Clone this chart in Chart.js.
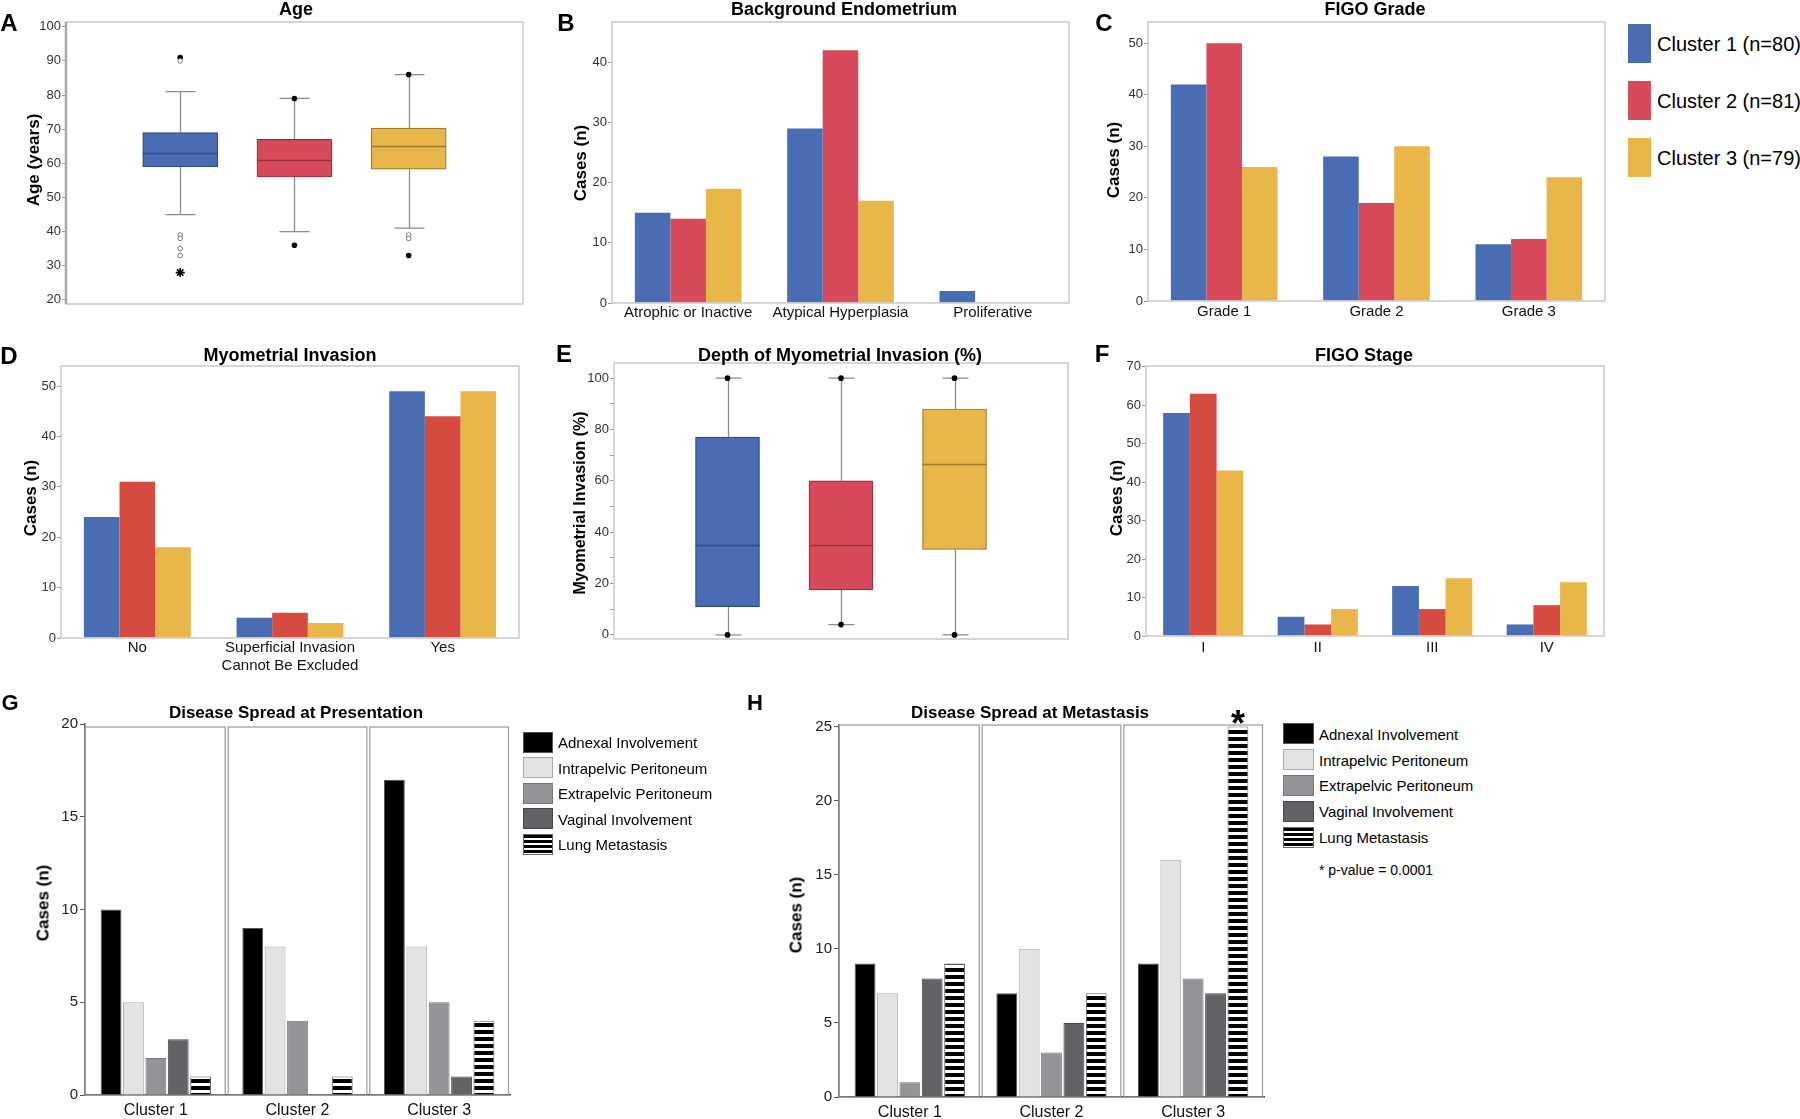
<!DOCTYPE html>
<html>
<head>
<meta charset="utf-8">
<script src="https://cdn.jsdelivr.net/npm/chart.js@4.4.1/dist/chart.umd.min.js"></script>
<style>
  html, body { margin: 0; padding: 0; background: #fff; }
  #page { position: relative; width: 1800px; height: 1119px; overflow: hidden;
          font-family: Arial, "Liberation Sans", Helvetica, sans-serif; color: #000; }
  #page canvas { position: absolute; }
  .txt { position: absolute; white-space: nowrap; transform: translate(-50%, -50%); line-height: 1; }
  .letter { font-weight: bold; font-size: 24px; }
  .ptitle { font-weight: bold; font-size: 18px; }
  .ytitle { font-weight: bold; font-size: 17px; transform: translate(-50%, -50%) rotate(-90deg); }
  .sw { position: absolute; box-sizing: border-box; }
  .lg { position: absolute; white-space: nowrap; transform: translateY(-50%); line-height: 1; }
</style>
</head>
<body>
<div id="page"></div>
<script>
// ---- data ----
const clusterNames = ['Cluster 1 (n=80)', 'Cluster 2 (n=81)', 'Cluster 3 (n=79)'];
const clusterColors = ['#4a6cb3', '#d64a5b', '#e8b649'];
const clusterColorsAlt = ['#4a6cb3', '#d64b3f', '#e8b649'];   // D and F use a more orange red
const boxEdges = ['#2f4a85', '#93303d', '#9e7a2a'];

// A: Age
const ageQ1 = [59, 56, 58.3];
const ageMedian = [63, 61, 65];
const ageQ3 = [69, 67, 70.3];
const ageWhiskerLow = [45, 40, 41];
const ageWhiskerHigh = [81, 79, 86];
const ageFilled = [[91], [79, 36], [86, 33]];
const ageOpen = [[90, 39, 38, 35, 33], [], [39, 38]];
const ageExtreme = [[28], [], []];
const ageTicks = [20, 30, 40, 50, 60, 70, 80, 90, 100];

// B: Background Endometrium
const endoCategories = ['Atrophic or Inactive', 'Atypical Hyperplasia', 'Proliferative'];
const endoCluster1 = [15, 29, 2];
const endoCluster2 = [14, 42, 0];
const endoCluster3 = [19, 17, 0];
const endoTicks = [0, 10, 20, 30, 40];

// C: FIGO Grade
const gradeCategories = ['Grade 1', 'Grade 2', 'Grade 3'];
const gradeCluster1 = [42, 28, 11];
const gradeCluster2 = [50, 19, 12];
const gradeCluster3 = [26, 30, 24];
const gradeTicks = [0, 10, 20, 30, 40, 50];

// D: Myometrial Invasion
const invCategories = ['No', ['Superficial Invasion', 'Cannot Be Excluded'], 'Yes'];
const invCluster1 = [24, 4, 49];
const invCluster2 = [31, 5, 44];
const invCluster3 = [18, 3, 49];
const invTicks = [0, 10, 20, 30, 40, 50];

// E: Depth of Myometrial Invasion (%)
const depthQ1 = [11, 17.5, 33.3];
const depthMedian = [35, 35, 66.7];
const depthQ3 = [77, 60, 88];
const depthWhiskerLow = [0, 4, 0];
const depthWhiskerHigh = [100, 100, 100];
const depthFilled = [[0, 100], [4, 100], [0, 100]];
const depthTicks = [0, 10, 20, 30, 40, 50, 60, 70, 80, 90, 100];

// F: FIGO Stage
const stageCategories = ['I', 'II', 'III', 'IV'];
const stageCluster1 = [58, 5, 13, 3];
const stageCluster2 = [63, 3, 7, 8];
const stageCluster3 = [43, 7, 15, 14];
const stageTicks = [0, 10, 20, 30, 40, 50, 60, 70];

// G, H: Disease spread
const spreadClusters = ['Cluster 1', 'Cluster 2', 'Cluster 3'];
const spreadSites = ['Adnexal Involvement', 'Intrapelvic Peritoneum', 'Extrapelvic Peritoneum', 'Vaginal Involvement', 'Lung Metastasis'];
const spreadFill = ['#000000', '#e2e3e5', '#939497', '#626366', null];
const spreadEdge = ['#555555', '#a9aaad', '#77787b', '#454648', '#666666'];
const presAdnexal = [10, 9, 17];
const presIntrapelvic = [5, 8, 8];
const presExtrapelvic = [2, 4, 5];
const presVaginal = [3, 0, 1];
const presLung = [1, 1, 4];
const presTicks = [0, 5, 10, 15, 20];
const metAdnexal = [9, 7, 9];
const metIntrapelvic = [7, 10, 16];
const metExtrapelvic = [1, 3, 8];
const metVaginal = [8, 5, 7];
const metLung = [9, 7, 25];
const metTicks = [0, 5, 10, 15, 20, 25];
const metSignificant = [{ site: 4, cluster: 2, mark: '*' }];

// ---- setup ----
const FONT = 'Arial, "Liberation Sans", Helvetica, sans-serif';
Chart.defaults.font.family = FONT;
Chart.defaults.animation = false;
Chart.defaults.events = [];
Chart.defaults.plugins.legend.display = false;
Chart.defaults.plugins.tooltip.enabled = false;

const page = document.getElementById('page');

function addText(text, x, y, cls, style) {
  const d = document.createElement('div');
  d.className = 'txt ' + (cls || '');
  d.textContent = text;
  d.style.left = x + 'px';
  d.style.top = y + 'px';
  if (style) Object.assign(d.style, style);
  page.appendChild(d);
  return d;
}

function addSwatch(x, y, w, h, bg, border) {
  const s = document.createElement('div');
  s.className = 'sw';
  Object.assign(s.style, { left: x + 'px', top: y + 'px', width: w + 'px', height: h + 'px',
    background: bg, border: border ? '1px solid ' + border : 'none' });
  page.appendChild(s);
}

function addLegendText(text, x, y, size) {
  const d = document.createElement('div');
  d.className = 'lg';
  d.textContent = text;
  Object.assign(d.style, { left: x + 'px', top: y + 'px', fontSize: size + 'px' });
  page.appendChild(d);
}

// fixed margins so the chart area lands exactly on the frame
const ML = 62, MT = 16, MR = 6, MB = 56;
function makeChart(frame, config) {
  const w = frame.r - frame.l + ML + MR;
  const h = frame.b - frame.t + MT + MB;
  const canvas = document.createElement('canvas');
  canvas.width = w; canvas.height = h;
  canvas.style.left = (frame.l - ML) + 'px';
  canvas.style.top = (frame.t - MT) + 'px';
  canvas.style.width = w + 'px';
  canvas.style.height = h + 'px';
  page.appendChild(canvas);
  config.options.responsive = false;
  config.options.devicePixelRatio = 1;
  config.options.layout = { padding: { top: MT, right: MR, left: 0, bottom: 0 } };
  config.options.scales.y.afterFit = s => { s.width = ML; };
  config.options.scales.x.afterFit = s => { s.height = MB; };
  return new Chart(canvas, config);
}

function yAxis(min, max, ticks, opts) {
  opts = opts || {};
  return {
    min: min, max: max,
    afterBuildTicks: s => { s.ticks = ticks.map(v => ({ value: v })); },
    ticks: { font: { size: opts.size || 13 }, color: opts.color || '#333', padding: opts.pad || 1,
             callback: opts.label || (v => v) },
    grid: { drawOnChartArea: false, drawTicks: true, tickLength: opts.tick || 4, color: opts.tickColor || '#999' },
    border: { display: !!opts.border, color: opts.borderColor || '#555', width: opts.borderWidth || 1.5 }
  };
}

const plotFrame = {
  id: 'plotFrame',
  afterDatasetsDraw(chart, args, opts) {
    const a = chart.chartArea, ctx = chart.ctx;
    ctx.save();
    ctx.strokeStyle = '#c9c9c9';
    ctx.lineWidth = 1.5;
    ctx.strokeRect(a.left, a.top, a.right - a.left, a.bottom - a.top);
    if (opts.leftColor) {
      ctx.strokeStyle = opts.leftColor;
      ctx.lineWidth = opts.leftWidth || 2;
      ctx.beginPath(); ctx.moveTo(a.left, a.top); ctx.lineTo(a.left, a.bottom); ctx.stroke();
    }
    ctx.restore();
  }
};

// whiskers under the boxes, medians on top
const boxPlot = {
  id: 'boxPlot',
  beforeDatasetsDraw(chart, args, o) {
    const meta = chart.getDatasetMeta(0), y = chart.scales.y, ctx = chart.ctx;
    ctx.save();
    ctx.strokeStyle = o.whiskerColor;
    ctx.lineWidth = 1.3;
    o.low.forEach((lo, i) => {
      const bar = meta.data[i + 1];
      const x = Math.round(bar.x) + 0.5;
      [[lo, o.q1[i]], [o.high[i], o.q3[i]]].forEach(([end, edge]) => {
        const ye = y.getPixelForValue(end);
        ctx.beginPath();
        ctx.moveTo(x, ye); ctx.lineTo(x, y.getPixelForValue(edge));
        ctx.moveTo(x - o.cap / 2, ye); ctx.lineTo(x + o.cap / 2, ye);
        ctx.stroke();
      });
    });
    ctx.restore();
  },
  afterDatasetsDraw(chart, args, o) {
    const meta = chart.getDatasetMeta(0), y = chart.scales.y, ctx = chart.ctx;
    ctx.save();
    ctx.lineWidth = 1.5;
    o.median.forEach((m, i) => {
      const bar = meta.data[i + 1];
      const ym = Math.round(y.getPixelForValue(m)) + 0.5;
      ctx.strokeStyle = boxEdges[i];
      ctx.beginPath();
      ctx.moveTo(bar.x - bar.width / 2, ym); ctx.lineTo(bar.x + bar.width / 2, ym);
      ctx.stroke();
    });
    ctx.restore();
  }
};

function pointSet(lists, style) {
  const data = [];
  lists.forEach((vals, i) => vals.forEach(v => data.push({ x: spreadClusters[i], y: v })));
  return Object.assign({ type: 'scatter', data: data }, style);
}

function boxChart(frame, q1, med, q3, lo, hi, pointSets, yMin, yMax, ticks, boxWidth, cap, tickLabel, frameOpts) {
  const labels = [''].concat(spreadClusters, ['']);
  return makeChart(frame, {
    type: 'bar',
    data: {
      labels: labels,
      datasets: [{
        data: [null].concat(q1.map((v, i) => [v, q3[i]]), [null]),
        backgroundColor: ['rgba(0,0,0,0)'].concat(clusterColors, ['rgba(0,0,0,0)']),
        borderColor: ['rgba(0,0,0,0)'].concat(boxEdges, ['rgba(0,0,0,0)']),
        borderWidth: 1.2,
        borderSkipped: false,
        barThickness: boxWidth
      }].concat(pointSets)
    },
    options: {
      scales: {
        x: { offset: false, ticks: { display: false }, grid: { display: false, drawTicks: false }, border: { display: false } },
        y: yAxis(yMin, yMax, ticks, { label: tickLabel })
      },
      plugins: {
        plotFrame: frameOpts || {},
        boxPlot: { q1: q1, q3: q3, median: med, low: lo, high: hi, cap: cap, whiskerColor: '#8c8c8c' }
      }
    },
    plugins: [boxPlot, plotFrame]
  });
}

function groupedChart(frame, categories, series, colors, yMin, yMax, ticks, labelPad) {
  return makeChart(frame, {
    type: 'bar',
    data: {
      labels: categories,
      datasets: series.map((d, i) => ({
        label: clusterNames[i], data: d, backgroundColor: colors[i], borderWidth: 0,
        categoryPercentage: 0.7, barPercentage: 1.0
      }))
    },
    options: {
      scales: {
        x: { ticks: { font: { size: 15 }, color: '#111', padding: labelPad, autoSkip: false, maxRotation: 0 },
             grid: { display: false, drawTicks: false }, border: { display: false } },
        y: yAxis(yMin, yMax, ticks)
      },
      plugins: { plotFrame: {} }
    },
    plugins: [plotFrame]
  });
}

// ---- A ----
boxChart({ l: 66, t: 22, r: 523, b: 304 }, ageQ1, ageMedian, ageQ3, ageWhiskerLow, ageWhiskerHigh, [
  pointSet(ageOpen, { pointStyle: 'circle', pointRadius: 2.3, backgroundColor: '#fff', borderColor: '#777', borderWidth: 1 }),
  pointSet(ageFilled, { pointStyle: 'circle', pointRadius: 2.8, backgroundColor: '#000', borderColor: '#000', borderWidth: 0 }),
  pointSet(ageExtreme, { pointStyle: 'star', pointRadius: 4.5, backgroundColor: '#000', borderColor: '#000', borderWidth: 1.6 })
], 18.8, 101.4, ageTicks, 75, 30, null, { leftColor: '#a8a8a8', leftWidth: 2.5 });

// ---- B ----
groupedChart({ l: 612, t: 22, r: 1069, b: 303 }, endoCategories, [endoCluster1, endoCluster2, endoCluster3],
  clusterColors, 0, 46.7, endoTicks, 1);

// ---- C ----
groupedChart({ l: 1148, t: 22, r: 1605, b: 301 }, gradeCategories, [gradeCluster1, gradeCluster2, gradeCluster3],
  clusterColors, 0, 54.1, gradeTicks, 2);

// ---- D ----
groupedChart({ l: 61, t: 366, r: 519, b: 638 }, invCategories, [invCluster1, invCluster2, invCluster3],
  clusterColorsAlt, 0, 54, invTicks, 1);

// ---- E ----
boxChart({ l: 614, t: 363, r: 1068, b: 639 }, depthQ1, depthMedian, depthQ3, depthWhiskerLow, depthWhiskerHigh, [
  pointSet(depthFilled, { pointStyle: 'circle', pointRadius: 2.8, backgroundColor: '#000', borderColor: '#000', borderWidth: 0 })
], -1.6, 105.9, depthTicks, 64, 26, v => (v % 20 === 0 ? v : ''));

// ---- F ----
groupedChart({ l: 1146, t: 366, r: 1604, b: 636 }, stageCategories, [stageCluster1, stageCluster2, stageCluster3],
  clusterColorsAlt, 0, 70.2, stageTicks, 3);

// ---- G, H ----
function stripePattern() {
  const c = document.createElement('canvas');
  c.width = 8; c.height = 7;
  const g = c.getContext('2d');
  g.fillStyle = '#fff'; g.fillRect(0, 0, 8, 7);
  g.fillStyle = '#000'; g.fillRect(0, 0, 8, 4);
  return g.createPattern(c, 'repeat');
}
const lungStripes = stripePattern();

const facetFrame = {
  id: 'facetFrame',
  beforeDatasetsDraw(chart, args, o) {
    const a = chart.chartArea, x = chart.scales.x, ctx = chart.ctx;
    const half = (x.getPixelForValue(1) - x.getPixelForValue(0)) / 2;
    ctx.save();
    ctx.strokeStyle = '#9a9a9a';
    ctx.lineWidth = 1.2;
    spreadClusters.forEach((c, i) => {
      const cx = x.getPixelForValue(i);
      const left = i === 0 ? a.left : cx - half + 1.5;
      ctx.strokeRect(left, a.top + o.inset, cx + half - 1.5 - left, a.bottom - a.top - o.inset);
    });
    ctx.restore();
  },
  afterDatasetsDraw(chart, args, o) {
    if (!o.marks) return;
    const ctx = chart.ctx;
    ctx.save();
    ctx.fillStyle = '#000';
    ctx.font = 'bold 36px ' + FONT;
    ctx.textAlign = 'center';
    ctx.textBaseline = 'alphabetic';
    o.marks.forEach(m => {
      const bar = chart.getDatasetMeta(m.site).data[m.cluster];
      ctx.fillText(m.mark, bar.x, bar.y + 10);
    });
    ctx.restore();
  }
};

function spreadChart(frame, series, yMax, ticks, inset, marks) {
  return makeChart(frame, {
    type: 'bar',
    data: {
      labels: spreadClusters,
      datasets: series.map((d, k) => ({
        label: spreadSites[k], data: d,
        backgroundColor: k === 4 ? lungStripes : spreadFill[k],
        borderColor: spreadEdge[k], borderWidth: 1,
        categoryPercentage: 0.79, barPercentage: 0.93
      }))
    },
    options: {
      scales: {
        x: { ticks: { font: { size: 16 }, color: '#111', padding: 6 },
             grid: { display: false, drawTicks: false }, border: { display: true, color: '#444', width: 1.5 } },
        y: yAxis(0, yMax, ticks, { size: 15, color: '#222', tick: 5, tickColor: '#555', pad: 2, border: true })
      },
      plugins: { facetFrame: { inset: inset, marks: marks } }
    },
    plugins: [facetFrame]
  });
}

spreadChart({ l: 85, t: 724, r: 510, b: 1095 },
  [presAdnexal, presIntrapelvic, presExtrapelvic, presVaginal, presLung], 20, presTicks, 3, null);
spreadChart({ l: 839, t: 725, r: 1264, b: 1097 },
  [metAdnexal, metIntrapelvic, metExtrapelvic, metVaginal, metLung], 25.1, metTicks, 0, metSignificant);

// ---- text: panel letters, titles, axis titles ----
[['A', 9, 23], ['B', 566, 23], ['C', 1104, 23], ['D', 9, 356], ['E', 564, 354], ['F', 1102, 354]]
  .forEach(([t, x, y]) => addText(t, x, y, 'letter'));
addText('G', 10, 703, 'letter', { fontSize: '22px' });
addText('H', 755, 703, 'letter', { fontSize: '22px' });

addText('Age', 296, 9, 'ptitle');
addText('Background Endometrium', 844, 9, 'ptitle');
addText('FIGO Grade', 1375, 9, 'ptitle');
addText('Myometrial Invasion', 290, 355, 'ptitle');
addText('Depth of Myometrial Invasion (%)', 840, 355, 'ptitle');
addText('FIGO Stage', 1364, 355, 'ptitle');
addText('Disease Spread at Presentation', 296, 712, 'ptitle', { fontSize: '17px' });
addText('Disease Spread at Metastasis', 1030, 712, 'ptitle', { fontSize: '17px' });

addText('Age (years)', 33, 160, 'ytitle');
addText('Cases (n)', 580, 163, 'ytitle');
addText('Cases (n)', 1113, 160, 'ytitle');
addText('Cases (n)', 30, 498, 'ytitle');
addText('Myometrial Invasion (%)', 580, 503, 'ytitle', { fontSize: '16px' });
addText('Cases (n)', 1116, 498, 'ytitle');
addText('Cases (n)', 43, 903, 'ytitle');
addText('Cases (n)', 796, 915, 'ytitle');

// ---- legends ----
clusterNames.forEach((n, i) => {
  const top = 24 + i * 57;
  addSwatch(1628, top, 23, 39, clusterColors[i], null);
  addLegendText(n, 1657, top + 20, 20);
});

function spreadLegend(x, y0, step, w) {
  spreadSites.forEach((s, k) => {
    const top = y0 + k * step;
    const bg = k === 4 ? 'repeating-linear-gradient(#000 0 3px, #fff 3px 5px)' : spreadFill[k];
    addSwatch(x, top, w, 21, bg, spreadEdge[k]);
    addLegendText(s, x + w + 5, top + 10.5, 15);
  });
}
spreadLegend(523, 731.5, 25.5, 30);
spreadLegend(1283, 723.3, 25.8, 31);
addLegendText('* p-value = 0.0001', 1319, 870, 14);
</script>
</body>
</html>
